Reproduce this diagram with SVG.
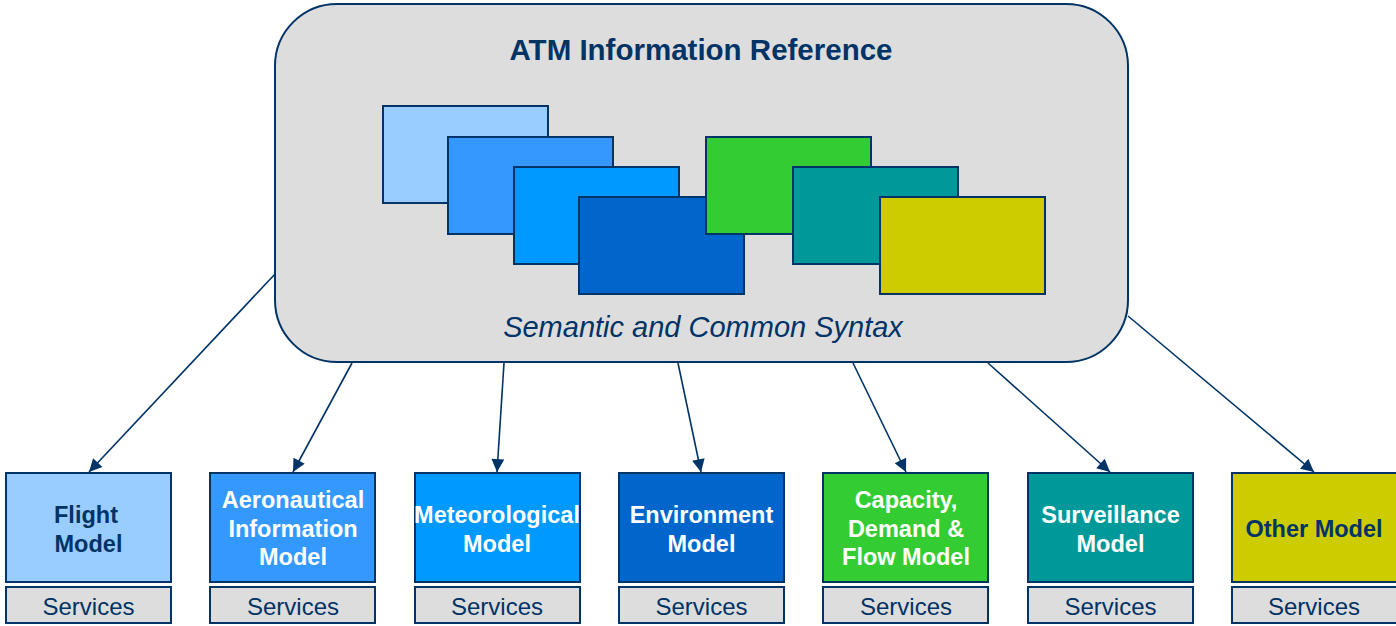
<svg xmlns="http://www.w3.org/2000/svg" width="1396" height="626" viewBox="0 0 1396 626">
<defs>
<marker id="ah" viewBox="0 0 10 10" refX="10" refY="5" markerWidth="9" markerHeight="8" orient="auto" markerUnits="strokeWidth">
<path d="M0,0 L10,5 L0,10 z" fill="#003366"/>
</marker>
<style>
.lyr{stroke:#003366;stroke-width:2}
.box{stroke:#003366;stroke-width:2}
.svc{fill:#DDDDDD;stroke:#003366;stroke-width:2}
.lbl{font-family:"Liberation Sans",Arial,sans-serif;font-size:23.5px;font-weight:bold;text-anchor:middle}
.svt{font-family:"Liberation Sans",Arial,sans-serif;font-size:24px;fill:#003366;text-anchor:middle}
.w{fill:#FFFFFF}
.n{fill:#003366}
.con{stroke:#003366;stroke-width:1.6;fill:none;marker-end:url(#ah)}
</style>
</defs>
<rect width="1396" height="626" fill="#FFFFFF"/>
<g id="connectors">
<line class="con" x1="276" y1="273" x2="89" y2="472"/>
<line class="con" x1="352" y1="363" x2="293" y2="472"/>
<line class="con" x1="504" y1="363" x2="497" y2="472"/>
<line class="con" x1="678" y1="363" x2="701" y2="472"/>
<line class="con" x1="853" y1="363" x2="906" y2="472"/>
<line class="con" x1="988" y1="363" x2="1110" y2="472"/>
<line class="con" x1="1128" y1="316" x2="1314" y2="472"/>
</g>
<g id="reference">
<rect x="275" y="4" width="853" height="358" rx="62" ry="62" fill="#DDDDDD" stroke="#003366" stroke-width="2"/>
<text x="701" y="60" font-family="Liberation Sans,Arial,sans-serif" font-size="29.5" font-weight="bold" fill="#003366" text-anchor="middle">ATM Information Reference</text>
<rect class="lyr" x="383" y="106" width="165" height="97" fill="#99CCFF"/>
<rect class="lyr" x="448" y="137" width="165" height="97" fill="#3399FF"/>
<rect class="lyr" x="514" y="167" width="165" height="97" fill="#0099FF"/>
<rect class="lyr" x="579" y="197" width="165" height="97" fill="#0066CC"/>
<rect class="lyr" x="706" y="137" width="165" height="97" fill="#33CC33"/>
<rect class="lyr" x="793" y="167" width="165" height="97" fill="#009999"/>
<rect class="lyr" x="880" y="197" width="165" height="97" fill="#CCCC00"/>
<text x="703" y="337" font-family="Liberation Sans,Arial,sans-serif" font-size="29" font-style="italic" fill="#003366" text-anchor="middle">Semantic and Common Syntax</text>
</g>
<g id="flight">
<rect class="box" x="6" y="473" width="165" height="109" fill="#99CCFF"/>
<text class="lbl n" x="86" y="523">Flight</text>
<text class="lbl n" x="88.5" y="552">Model</text>
<rect class="svc" x="6" y="587" width="165" height="36"/>
<text class="svt" x="88.5" y="615">Services</text>
</g>
<g id="aeronautical">
<rect class="box" x="210" y="473" width="165" height="109" fill="#3399FF"/>
<text class="lbl w" x="293" y="508">Aeronautical</text>
<text class="lbl w" x="293" y="537">Information</text>
<text class="lbl w" x="293" y="565">Model</text>
<rect class="svc" x="210" y="587" width="165" height="36"/>
<text class="svt" x="293" y="615">Services</text>
</g>
<g id="meteorological">
<rect class="box" x="415" y="473" width="165" height="109" fill="#0099FF"/>
<text class="lbl w" x="497" y="523">Meteorological</text>
<text class="lbl w" x="497" y="552">Model</text>
<rect class="svc" x="415" y="587" width="165" height="36"/>
<text class="svt" x="497" y="615">Services</text>
</g>
<g id="environment">
<rect class="box" x="619" y="473" width="165" height="109" fill="#0066CC"/>
<text class="lbl w" x="701.5" y="523">Environment</text>
<text class="lbl w" x="701.5" y="552">Model</text>
<rect class="svc" x="619" y="587" width="165" height="36"/>
<text class="svt" x="701.5" y="615">Services</text>
</g>
<g id="capacity">
<rect class="box" x="823" y="473" width="165" height="109" fill="#33CC33"/>
<text class="lbl w" x="906" y="508">Capacity,</text>
<text class="lbl w" x="906" y="537">Demand &amp;</text>
<text class="lbl w" x="906" y="565">Flow Model</text>
<rect class="svc" x="823" y="587" width="165" height="36"/>
<text class="svt" x="906" y="615">Services</text>
</g>
<g id="surveillance">
<rect class="box" x="1028" y="473" width="165" height="109" fill="#009999"/>
<text class="lbl w" x="1110.5" y="523">Surveillance</text>
<text class="lbl w" x="1110.5" y="552">Model</text>
<rect class="svc" x="1028" y="587" width="165" height="36"/>
<text class="svt" x="1110.5" y="615">Services</text>
</g>
<g id="other">
<rect class="box" x="1232" y="473" width="165" height="109" fill="#CCCC00"/>
<text class="lbl n" x="1314" y="537">Other Model</text>
<rect class="svc" x="1232" y="587" width="165" height="36"/>
<text class="svt" x="1314" y="615">Services</text>
</g>
</svg>
